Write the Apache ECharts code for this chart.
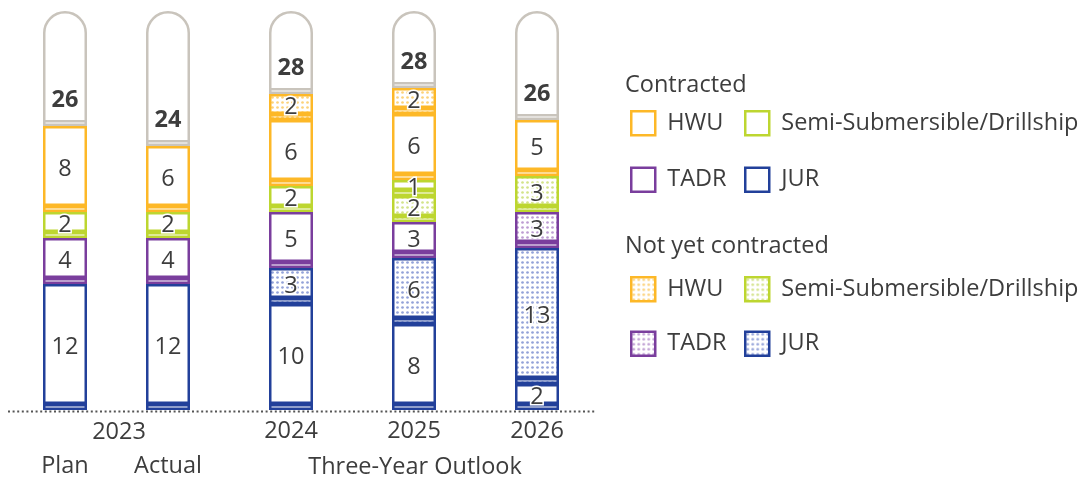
<!DOCTYPE html>
<html><head><meta charset="utf-8">
<script src="https://cdn.jsdelivr.net/npm/echarts@6/dist/echarts.min.js"></script>
<style>html,body{margin:0;padding:0;background:#fff}#c{width:1089px;height:479px}</style>
</head><body><div id="c"></div>
<script>
// ---- data ----
const categories = ['Plan', 'Actual', '2024', '2025', '2026'];
const groupLabels = ['2023', 'Three-Year Outlook'];
const jurC  = [12, 12, 10, 8, 2];
const jurN  = [0, 0, 3, 6, 13];
const tadrC = [4, 4, 5, 3, 0];
const tadrN = [0, 0, 0, 0, 3];
const semiN = [0, 0, 0, 2, 3];
const semiC = [2, 2, 2, 1, 0];
const hwuC  = [8, 6, 6, 6, 5];
const hwuN  = [0, 0, 2, 2, 0];
const totals = [26, 24, 28, 28, 26];

// ---- style ----
const FONT = 'Open Sans';
const FS = 23.5;
const TXT = '#3d3d3d';
const C = { hwu: '#FDB827', semi: '#BDD630', tadr: '#7A3E9D', jur: '#22409A', grey: '#C9C4BC' };
const DOT = { hwu: '#FCD27A', semi: '#D3E38A', tadr: '#BD9CD2', jur: '#93A2D8' };
const SP = 0.6;      // spacer height (axis units)
const CAP = 39.9;    // capsule height
const BW = 2.5;

function pattern(dot) {
  const cv = document.createElement('canvas');
  cv.width = 5; cv.height = 5;
  const g = cv.getContext('2d');
  g.fillStyle = '#fff'; g.fillRect(0, 0, 5, 5);
  g.fillStyle = dot; g.beginPath(); g.arc(2.5, 2.5, 1.35, 0, Math.PI * 2); g.fill();
  return { image: cv, repeat: 'repeat' };
}

const layers = [
  { name: 'JUR#c', key: 'jur', data: jurC, dotted: false },
  { name: 'JUR#n', key: 'jur', data: jurN, dotted: true },
  { name: 'TADR#c', key: 'tadr', data: tadrC, dotted: false },
  { name: 'TADR#n', key: 'tadr', data: tadrN, dotted: true },
  { name: 'Semi-Submersible/Drillship#n', key: 'semi', data: semiN, dotted: true },
  { name: 'Semi-Submersible/Drillship#c', key: 'semi', data: semiC, dotted: false },
  { name: 'HWU#c', key: 'hwu', data: hwuC, dotted: false },
  { name: 'HWU#n', key: 'hwu', data: hwuN, dotted: true },
];

const groups = [ { idx: [0, 1] }, { idx: [2, 3, 4] } ];

const series = [];
groups.forEach((grp, gi) => {
  const common = { type: 'bar', xAxisIndex: gi, yAxisIndex: gi, barWidth: 44, barGap: '-100%', silent: true, animation: false };
  series.push(Object.assign({}, common, {
    name: 'cap' + gi,
    data: grp.idx.map(() => CAP),
    itemStyle: { color: '#fff', borderColor: C.grey, borderWidth: BW, borderRadius: [22, 22, 0, 0] }
  }));
  layers.forEach(l => {
    const fill = l.dotted ? pattern(DOT[l.key]) : '#fff';
    series.push(Object.assign({}, common, {
      name: l.name + '_sp', stack: 's' + gi,
      data: grp.idx.map(i => l.data[i] > 0 ? SP : '-'),
      itemStyle: { color: fill, borderColor: C[l.key], borderWidth: BW }
    }));
    series.push(Object.assign({}, common, {
      name: l.name, stack: 's' + gi,
      data: grp.idx.map(i => l.data[i] > 0 ? l.data[i] : '-'),
      itemStyle: { color: fill, borderColor: C[l.key], borderWidth: BW },
      label: { show: true, position: 'inside', offset: [0, 3], color: TXT, fontFamily: FONT, fontSize: FS,
               textBorderColor: '#fff', textBorderWidth: 3 }
    }));
  });
  series.push(Object.assign({}, common, {
    name: 'tot' + gi, stack: 's' + gi,
    data: grp.idx.map(() => SP),
    itemStyle: { color: '#fff', borderColor: C.grey, borderWidth: BW },
    label: { show: true, position: 'top', distance: 8, color: TXT, fontFamily: FONT, fontSize: FS, fontWeight: 'bold',
             formatter: p => String(totals[grp.idx[p.dataIndex]]) }
  }));
});

const legendBase = {
  orient: 'vertical', selectedMode: false, icon: 'rect', itemWidth: 24, itemHeight: 24, padding: 0,
  textStyle: { fontFamily: FONT, fontSize: FS, color: TXT, padding: [0, 0, 0, 7] },
  itemStyle: { borderWidth: BW },
  formatter: n => n.split('#')[0]
};

const font = FS + 'px "' + FONT + '"';
const option = {
  animation: false,
  grid: [
    { left: 13.5, width: 206, top: 0, bottom: 69 },
    { left: 229.5, width: 369, top: 0, bottom: 69 }
  ],
  xAxis: [
    { type: 'category', gridIndex: 0, data: categories.slice(0, 2), axisLine: { show: false }, axisTick: { show: false },
      axisLabel: { margin: 44, fontFamily: FONT, fontSize: FS, color: TXT } },
    { type: 'category', gridIndex: 1, data: categories.slice(2), axisLine: { show: false }, axisTick: { show: false },
      axisLabel: { margin: 9, fontFamily: FONT, fontSize: FS, color: TXT } }
  ],
  yAxis: [
    { type: 'value', gridIndex: 0, min: 0, max: 41, show: false },
    { type: 'value', gridIndex: 1, min: 0, max: 41, show: false }
  ],
  legend: [
    Object.assign({}, legendBase, { left: 630, top: 110, itemGap: 30, data: ['HWU#c', 'TADR#c'] }),
    Object.assign({}, legendBase, { left: 744, top: 110, itemGap: 30, data: ['Semi-Submersible/Drillship#c', 'JUR#c'] }),
    Object.assign({}, legendBase, { left: 630, top: 276, itemGap: 28, data: ['HWU#n', 'TADR#n'] }),
    Object.assign({}, legendBase, { left: 744, top: 276, itemGap: 28, data: ['Semi-Submersible/Drillship#n', 'JUR#n'] })
  ],
  graphic: [
    { type: 'line', z: -1, shape: { x1: 8, y1: 411.5, x2: 596, y2: 411.5 }, style: { stroke: '#555', lineWidth: 2, lineDash: [2, 2.6] } },
    { type: 'text', x: 119, y: 432, style: { text: groupLabels[0], fill: TXT, font: font, align: 'center', verticalAlign: 'middle' } },
    { type: 'text', x: 415, y: 467, style: { text: groupLabels[1], fill: TXT, font: font, align: 'center', verticalAlign: 'middle' } },
    { type: 'text', x: 625, y: 85, style: { text: 'Contracted', fill: TXT, font: font, align: 'left', verticalAlign: 'middle' } },
    { type: 'text', x: 625, y: 246, style: { text: 'Not yet contracted', fill: TXT, font: font, align: 'left', verticalAlign: 'middle' } }
  ],
  series: series
};

const chart = echarts.init(document.getElementById('c'), null, { renderer: 'canvas' });
chart.setOption(option);
</script>
</body></html>
